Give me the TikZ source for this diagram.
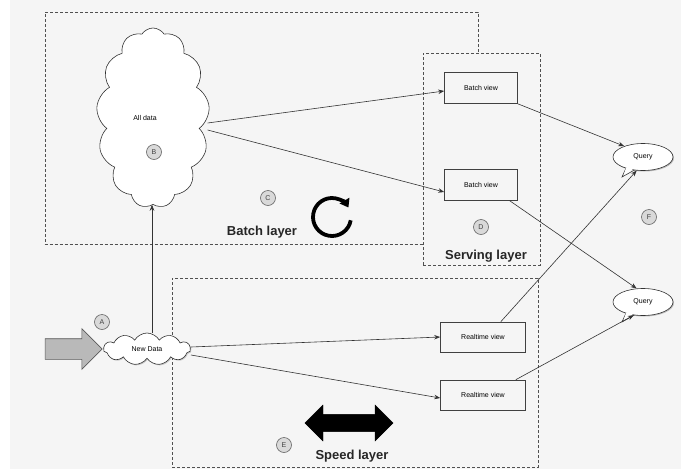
\documentclass[tikz,border=0pt]{standalone}
\usepackage{fontspec}
\setmainfont{Liberation Sans}
\usetikzlibrary{shapes.symbols,shapes.geometric,shapes.arrows,arrows.meta,shadows}
\definecolor{bg}{RGB}{245,245,245}
\definecolor{dashc}{RGB}{80,80,80}
\tikzset{
  layerbox/.style={draw=dashc, line width=0.9pt, dash pattern=on 3pt off 2pt, rectangle, inner sep=0pt},
  viewbox/.style={draw=black!75, fill=bg, line width=0.6pt, rectangle, inner sep=0pt, font=\fontsize{7}{8}\selectfont},
  letter/.style={circle, draw=gray!80!black, fill=gray!30, line width=0.6pt, minimum size=15pt, inner sep=0pt, font=\fontsize{7}{8}\selectfont, text=black!75},
  conn/.style={draw=black!80, line width=0.6pt, -{Stealth[length=6pt,width=4.5pt]}},
  bubble/.style={ellipse, draw=black!80, fill=white, line width=0.6pt, minimum width=60pt, minimum height=27pt, inner sep=0pt, font=\fontsize{7}{8}\selectfont, drop shadow={shadow xshift=1pt, shadow yshift=-1pt, opacity=0.5}},
  layertitle/.style={font=\bfseries\fontsize{13}{15}\selectfont, text=black!85}
}
\begin{document}
\begin{tikzpicture}[x=1pt,y=-1pt]
\useasboundingbox (0,0) rectangle (681,469);
\fill[bg] (0,0) rectangle (681,469);
\fill[white] (0,0) rectangle (10,469);
% layer boxes
\node[layerbox, minimum width=433pt, minimum height=232pt] (batch) at (261.5,128) {};
\draw[dashc, line width=1.6pt, dash pattern=on 3pt off 2pt] (batch.south west) -- ([xshift=-55pt]batch.south east);
\node[layerbox, fill=bg, minimum width=117pt, minimum height=212pt] (serving) at (481.5,159) {};
\node[layerbox, minimum width=366pt, minimum height=189pt] (speed) at (355,372.5) {};
% all data cloud
\node[cloud, cloud puffs=13, cloud puff arc=115, aspect=0.63, draw=black!80, fill=white, line width=0.6pt, minimum width=113pt, minimum height=180pt, inner sep=0pt] (alldata) at (153,118) {};
\node[font=\fontsize{7}{8}\selectfont] (alldatalbl) at (145,118) {All data};
\node[letter] (B) at (154,152) {B};
\node[letter] (C) at (268,198) {C};
\node[letter] (D) at (481,227) {D};
\node[letter] (F) at (649,217) {F};
\node[letter] (A) at (102,322) {A};
\node[letter] (E) at (284,445) {E};
% titles
\node[layertitle] (btitle) at (262,232) {Batch layer};
\node[layertitle] (stitle) at (486,256) {Serving layer};
\node[layertitle] (sptitle) at (352,456) {Speed layer};
% circular arrow
\coordinate (rc) at (332,217);
\draw[line width=3.8pt, -{Triangle[length=8pt,width=11pt]}] ([shift={(10:19)}]rc) arc[start angle=10, end angle=330, radius=19];
% double arrow
\node[double arrow, fill=black, draw=black, inner xsep=0pt, inner ysep=8pt, minimum width=36pt, double arrow head extend=9pt, minimum height=88pt] (dbl) at (349,423) {};
% views
\node[viewbox, minimum width=73pt, minimum height=31pt] (bv1) at (481,88) {Batch view};
\node[viewbox, minimum width=73pt, minimum height=31pt] (bv2) at (481,185) {Batch view};
\node[viewbox, minimum width=85pt, minimum height=30pt] (rv1) at (483,337) {Realtime view};
\node[viewbox, minimum width=85pt, minimum height=30pt] (rv2) at (483,395) {Realtime view};
% query bubbles
\fill[white, draw=black!80, line width=0.6pt] (627,166) -- (622,177) -- (638,168) -- cycle;
\fill[white, draw=black!80, line width=0.6pt] (627,311) -- (622,322) -- (638,313) -- cycle;
\node[bubble] (q1) at (643,157) {Query};
\node[bubble] (q2) at (643,302) {Query};
\fill[white] (626,168) -- (624,174) -- (635,168) -- cycle;
\fill[white] (626,313) -- (624,319) -- (635,313) -- cycle;
% input arrow and new data
\node[single arrow, fill=gray!55, draw=gray!70!black, line width=0.6pt, inner xsep=0pt, inner ysep=10pt, minimum width=40pt, single arrow head extend=10pt, minimum height=57pt] (inarrow) at (68.5,349) {};
\node[cloud, cloud puffs=11, cloud puff arc=120, aspect=2.7, draw=black!80, fill=white, line width=0.6pt, minimum width=87pt, minimum height=32pt, inner sep=0pt, font=\fontsize{7}{8}\selectfont, drop shadow={shadow xshift=1pt, shadow yshift=-1pt, opacity=0.4}] (nd) at (147,349) {New Data};
% connectors
\draw[conn] ([xshift=5pt]nd.north) -- ([xshift=5pt]nd.north |- alldata.south);
\draw[conn] ([yshift=-5pt]alldata.east) -- ([yshift=-3pt]bv1.west);
\draw[conn] ([yshift=-12pt]alldata.east) -- ([yshift=-7pt]bv2.west);
\draw[conn] ([xshift=0pt]bv1.south east) -- (q1.150);
\draw[conn] ([xshift=-8pt]bv2.south east) -- (q2.115);
\draw[conn] ([xshift=-25pt]rv1.north east) -- (q1.245);
\draw[conn] ([xshift=-10pt]rv2.north east) -- (q2.235);
\draw[conn] ([yshift=2pt]nd.east) -- (rv1.west);
\draw[conn] ([yshift=-6pt]nd.east) -- ([yshift=-3pt]rv2.west);
\end{tikzpicture}
\end{document}
